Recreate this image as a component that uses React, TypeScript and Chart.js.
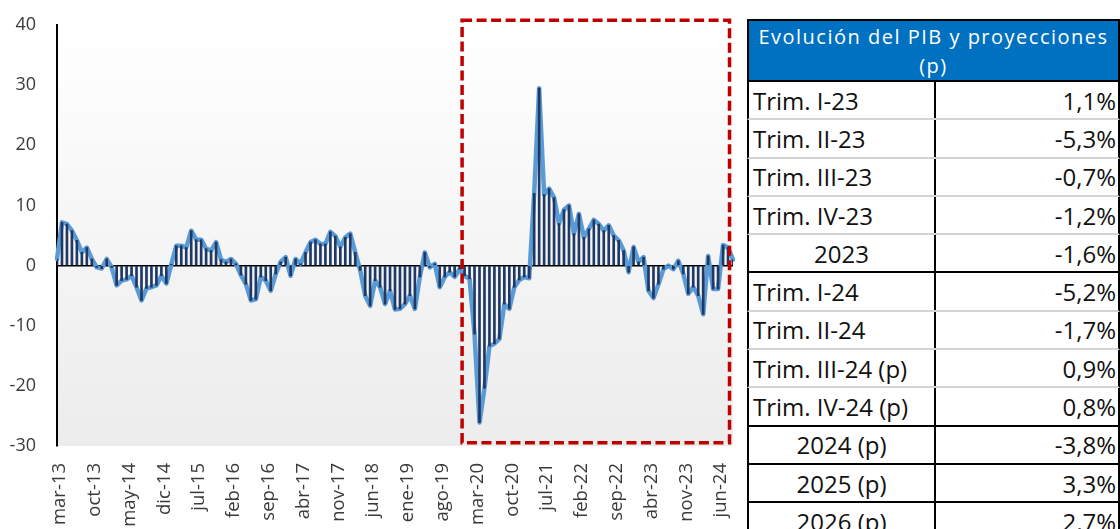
import React, { useEffect, useRef } from "react";
import { Chart, registerables } from "chart.js";

Chart.register(...registerables);

// ---------- DATA ----------
const monthNames = ["ene", "feb", "mar", "abr", "may", "jun", "jul", "ago", "sep", "oct", "nov", "dic"];
const firstMonth = { year: 2013, month: 2 }; // mar-13
const missingMonths = ["dic-20", "ene-21"];

// Variación interanual (%), lectura del gráfico
const pibVariacion = [
  1.1, 7.2, 6.9, 5.8, 4.2, 2.2, 3.0, 1.1, -0.3, -0.5,
  1.1, -0.3, -3.3, -2.5, -2.3, -1.7, -3.6, -5.8, -3.8, -3.6,
  -3.3, -1.7, -3.0, 0.2, 3.3, 3.3, 3.0, 5.8, 4.3, 4.3,
  2.8, 2.5, 3.9, 1.0, 0.6, 1.1, 0.3, -1.6, -3.1, -5.8,
  -5.6, -1.9, -2.5, -4.2, -1.4, 0.6, 1.4, -1.7, 1.1, 0.3,
  2.2, 3.9, 4.3, 3.6, 3.6, 5.6, 4.9, 3.1, 4.7, 5.3,
  2.2, -0.8, -5.0, -6.7, -2.5, -3.6, -6.4, -4.2, -7.3, -7.2,
  -6.4, -5.0, -7.2, -1.9, 2.2, -0.3, 0.3, -3.6, -1.9, -1.1,
  -1.9, -0.6, -1.7, -2.2, -11.4, -26.1, -20.4, -13.4, -13.0, -12.2,
  -6.4, -7.2, -3.6, -2.4, -1.9, -2.1, 12.0, 29.5, 11.8, 12.8,
  11.3, 7.0, 9.3, 10.0, 5.3, 8.6, 4.7, 6.1, 7.6, 6.9,
  5.8, 6.7, 5.0, 4.2, 2.5, -1.1, 3.1, 0.6, 1.4, -4.2,
  -5.4, -3.1, -0.6, 0.0, -0.6, 0.8, -1.4, -4.7, -3.6, -5.0,
  -8.1, 1.6, -3.9, -3.9, 3.4, 3.0, 1.0,
];

const yTicks = { min: -30, max: 40, step: 10 };
const labelEvery = 7;

// Recuadro punteado (en unidades de los ejes)
const highlight = { fromIndex: 81.5, toIndex: 135.3, top: 40.8, bottom: -29.45 };

// Tabla
const tableTitleLines = ["Evolución del PIB y proyecciones", "(p)"];
const tablePeriods = [
  "Trim. I-23", "Trim. II-23", "Trim. III-23", "Trim. IV-23", "2023",
  "Trim. I-24", "Trim. II-24", "Trim. III-24 (p)", "Trim. IV-24 (p)",
  "2024 (p)", "2025 (p)", "2026 (p)",
];
const tableValues = ["1,1%", "-5,3%", "-0,7%", "-1,2%", "-1,6%", "-5,2%", "-1,7%", "0,9%", "0,8%", "-3,8%", "3,3%", "2,7%"];
const tableIsAnnual = [false, false, false, false, true, false, false, false, false, true, true, true];
const tableStrongLineBelow = [false, false, false, false, true, false, false, false, true, true, true, true];

function buildLabels(count: number): string[] {
  const out: string[] = [];
  let y = firstMonth.year;
  let m = firstMonth.month;
  while (out.length < count) {
    const lab = `${monthNames[m]}-${String(y % 100).padStart(2, "0")}`;
    if (!missingMonths.includes(lab)) out.push(lab);
    m++;
    if (m > 11) { m = 0; y++; }
  }
  return out;
}
const monthLabels = buildLabels(pibVariacion.length);

const FONT = "'Open Sans', 'Noto Sans', sans-serif";

const bgPlugin = {
  id: "plotBg",
  beforeDraw(chart: any) {
    const { ctx, chartArea } = chart;
    if (!chartArea) return;
    const g = ctx.createLinearGradient(0, chartArea.top, 0, chartArea.bottom);
    g.addColorStop(0, "#ffffff");
    g.addColorStop(1, "#ececec");
    ctx.save();
    ctx.fillStyle = g;
    ctx.fillRect(chartArea.left, chartArea.top, chartArea.right - chartArea.left, chartArea.bottom - chartArea.top);
    ctx.restore();
  },
};

const highlightPlugin = {
  id: "highlightBox",
  afterDraw(chart: any) {
    const { ctx, scales } = chart;
    const x0 = scales.x.getPixelForValue(highlight.fromIndex);
    const x1 = scales.x.getPixelForValue(highlight.toIndex);
    const y0 = scales.y.getPixelForValue(highlight.top);
    const y1 = scales.y.getPixelForValue(highlight.bottom);
    ctx.save();
    ctx.strokeStyle = "#C00000";
    ctx.lineWidth = 3.5;
    ctx.setLineDash([10, 4.5]);
    ctx.strokeRect(x0, y0, x1 - x0, y1 - y0);
    ctx.restore();
  },
};

function PibChart() {
  const ref = useRef<HTMLCanvasElement | null>(null);
  useEffect(() => {
    if (!ref.current) return;
    const chart = new Chart(ref.current, {
      type: "bar",
      data: {
        labels: monthLabels,
        datasets: [
          {
            type: "bar",
            data: pibVariacion,
            backgroundColor: "#1F3864",
            borderWidth: 0,
            barThickness: 2,
            order: 0,
          } as any,
          {
            type: "line",
            data: pibVariacion,
            borderColor: "#5B9BD5",
            borderWidth: 4.5,
            pointRadius: 0,
            tension: 0,
            borderJoinStyle: "round",
            borderCapStyle: "round",
            order: 1,
          } as any,
        ],
      },
      options: {
        animation: false,
        responsive: false,
        devicePixelRatio: 1,
        layout: { padding: { top: 25, right: 7, bottom: 0, left: 0 } },
        plugins: { legend: { display: false }, tooltip: { enabled: false } },
        scales: {
          x: {
            offset: false,
            grid: { display: false, drawTicks: false, offset: false },
            border: { display: false },
            ticks: {
              autoSkip: false,
              maxRotation: 90,
              minRotation: 90,
              padding: 17,
              labelOffset: 3,
              color: "#3a3a3a",
              font: { family: FONT, size: 18.5 },
              callback: (_v: any, i: number) => (i % labelEvery === 0 ? monthLabels[i] : null),
            },
            afterFit: (s: any) => {
              s.height = 83;
              s.paddingLeft = 0;
              s.paddingRight = 0;
            },
          },
          y: {
            min: yTicks.min,
            max: yTicks.max,
            ticks: {
              stepSize: yTicks.step,
              padding: 21,
              color: "#3a3a3a",
              font: { family: FONT, size: 18 },
            },
            grid: {
              drawTicks: false,
              lineWidth: 1.5,
              color: (c: any) => (c.tick && c.tick.value === 0 ? "#000000" : "rgba(0,0,0,0)"),
            },
            border: { display: true, color: "#000000", width: 2 },
            afterFit: (s: any) => {
              s.width = 57;
              s.paddingTop = 0;
              s.paddingBottom = 0;
            },
          },
        },
      } as any,
      plugins: [bgPlugin, highlightPlugin],
    });
    if ((document as any).fonts) {
      (document as any).fonts.load(`18px 'Open Sans'`).then(() => chart.update()).catch(() => {});
    }
    return () => chart.destroy();
  }, []);
  return <canvas ref={ref} width={740} height={529} style={{ position: "absolute", left: 0, top: 0 }} />;
}

function PibTable() {
  const rowH = 38.3;
  return (
    <div style={{ position: "absolute", left: 747, top: 19, width: 373, fontFamily: FONT, color: "#111" }}>
      <div
        style={{
          height: 63,
          boxSizing: "border-box",
          background: "#0070C0",
          border: "2px solid #000",
          color: "#fff",
          textAlign: "center",
          fontSize: 20,
          lineHeight: "29px",
          letterSpacing: 1.5,
          paddingTop: 1,
        }}
      >
        {tableTitleLines.map((l, i) => (
          <div key={i} style={{ whiteSpace: "nowrap" }}>{l}</div>
        ))}
      </div>
      {tablePeriods.map((p, i) => (
        <div
          key={i}
          style={{
            display: "flex",
            height: rowH,
            boxSizing: "border-box",
            borderLeft: "2px solid #000",
            borderRight: "2px solid #000",
            borderBottom: `2px solid ${tableStrongLineBelow[i] ? "#000" : "#d4d4d4"}`,
            fontSize: 24,
          }}
        >
          <div
            style={{
              width: 187,
              boxSizing: "border-box",
              borderRight: "2px solid #000",
              display: "flex",
              alignItems: "center",
              justifyContent: tableIsAnnual[i] ? "center" : "flex-start",
              paddingLeft: tableIsAnnual[i] ? 0 : 4,
              whiteSpace: "nowrap",
            }}
          >
            {p}
          </div>
          <div
            style={{
              flex: 1,
              display: "flex",
              alignItems: "center",
              justifyContent: "flex-end",
              paddingRight: 2,
            }}
          >
            {tableValues[i]}
          </div>
        </div>
      ))}
    </div>
  );
}

export default function App() {
  return (
    <div style={{ position: "fixed", left: 0, top: 0, width: 1120, height: 529, overflow: "hidden", background: "#fff" }}>
      <PibChart />
      <PibTable />
    </div>
  );
}
